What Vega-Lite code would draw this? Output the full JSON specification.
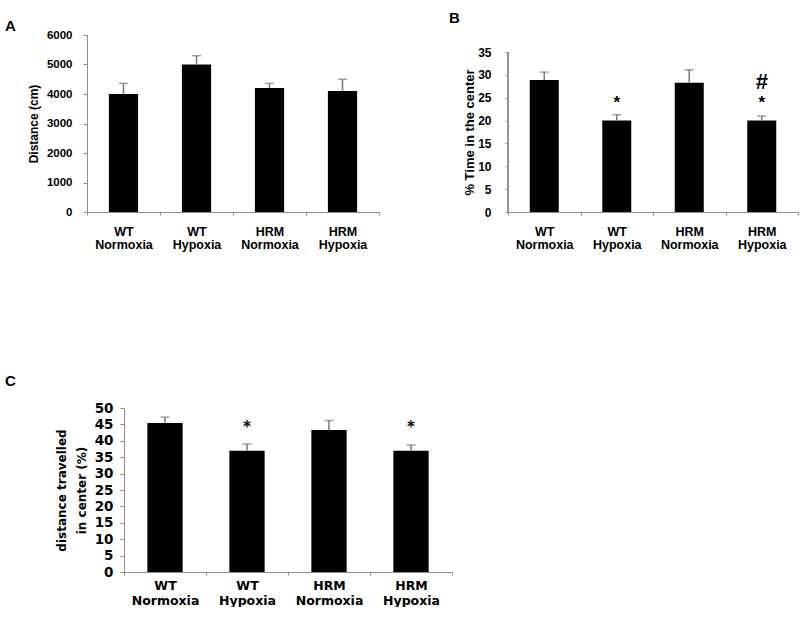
{
  "$schema": "https://vega.github.io/schema/vega-lite/v6.json",
  "padding": {"left": 5, "top": 11, "right": 0, "bottom": 0},
  "background": "white",
  "config": {
    "view": {"stroke": null},
    "axis": {
      "grid": false,
      "domainColor": "#8c8c8c",
      "tickColor": "#8c8c8c",
      "labelColor": "#000000",
      "titleColor": "#000000",
      "labelFont": "Liberation Sans",
      "titleFont": "Liberation Sans",
      "labelFontWeight": "bold",
      "titleFontWeight": "bold"
    },
    "title": {"anchor": "start", "frame": "group", "font": "Liberation Sans", "fontSize": 15, "fontWeight": "bold", "color": "#000000"}
  },
  "columns": 1,
  "align": "none",
  "spacing": 123,
  "concat": [
    {
      "hconcat": [
        {
          "title": {"text": "A", "dx": -119, "dy": 4, "offset": -1},
          "width": 255,
          "height": 177,
          "data": {"values": [
            {"group": "WT Normoxia", "mean": 4000, "upper": 4360},
            {"group": "WT Hypoxia", "mean": 5000, "upper": 5300},
            {"group": "HRM Normoxia", "mean": 4200, "upper": 4360},
            {"group": "HRM Hypoxia", "mean": 4100, "upper": 4500}
          ]},
          "encoding": {
            "x": {"field": "group", "type": "nominal", "sort": null,
              "scale": {"range": [-37, 255], "paddingInner": 0, "paddingOuter": 0},
              "axis": {"title": null, "labelAngle": 0, "labelExpr": "datum.value ? split(datum.value, ' ') : ''", "labelFontSize": 12.5, "labelLineHeight": 13, "tickBand": "extent", "tickSize": 3, "labelPadding": 10}}
          },
          "layer": [
            {"mark": {"type": "bar", "color": "#000000", "width": {"band": 0.4}},
             "encoding": {"y": {"field": "mean", "type": "quantitative",
               "scale": {"domain": [0, 6000]},
               "axis": {"title": "Distance (cm)", "offset": 37, "format": "d", "titleFontSize": 12, "labelFontSize": 11.5, "values": [0,1000,2000,3000,4000,5000,6000], "tickSize": 4, "labelPadding": 11, "titlePadding": 6}}}},
            {"mark": {"type": "rule", "color": "#777777", "strokeWidth": 1.5},
             "encoding": {"y": {"field": "mean", "type": "quantitative",
               "axis": {"title": "Distance (cm)", "offset": 37, "format": "d", "titleFontSize": 12, "labelFontSize": 11.5, "values": [0,1000,2000,3000,4000,5000,6000], "tickSize": 4, "labelPadding": 11, "titlePadding": 6}}, "y2": {"field": "upper"}}},
            {"mark": {"type": "tick", "color": "#777777", "size": 9, "thickness": 1.5},
             "encoding": {"y": {"field": "upper", "type": "quantitative",
               "axis": {"title": "Distance (cm)", "offset": 37, "format": "d", "titleFontSize": 12, "labelFontSize": 11.5, "values": [0,1000,2000,3000,4000,5000,6000], "tickSize": 4, "labelPadding": 11, "titlePadding": 6}}}}
          ]
        },
        {
          "title": {"text": "B", "dx": -59, "offset": 9},
          "width": 290,
          "height": 177,
          "data": {"values": [
            {"group": "WT Normoxia", "mean": 28.9, "upper": 30.6},
            {"group": "WT Hypoxia", "mean": 20.0, "upper": 21.3},
            {"group": "HRM Normoxia", "mean": 28.3, "upper": 31.1},
            {"group": "HRM Hypoxia", "mean": 20.0, "upper": 21.0}
          ]},
          "encoding": {
            "x": {"field": "group", "type": "nominal", "sort": null,
              "scale": {"paddingInner": 0, "paddingOuter": 0},
              "axis": {"title": null, "labelAngle": 0, "labelExpr": "datum.value ? split(datum.value, ' ') : ''", "labelFontSize": 12.5, "labelLineHeight": 13, "tickBand": "extent", "tickSize": 3, "labelPadding": 10}}
          },
          "layer": [
            {"mark": {"type": "bar", "color": "#000000", "width": {"band": 0.4}},
             "encoding": {"y": {"field": "mean", "type": "quantitative",
               "scale": {"domain": [0, 38.72], "nice": false},
               "axis": {"title": "% Time in the center", "domain": false, "titleFontSize": 13, "labelFontSize": 12, "values": [0,5,10,15,20,25,30,35], "tickSize": 3, "labelPadding": 14, "titlePadding": 1, "titleY": 97}}}},
            {"mark": {"type": "rule", "color": "#8c8c8c", "strokeWidth": 1},
             "encoding": {"x": {"datum": "WT Normoxia", "type": "nominal", "bandPosition": 0}, "y": {"datum": 0, "type": "quantitative",
               "axis": {"title": "% Time in the center", "domain": false, "titleFontSize": 13, "labelFontSize": 12, "values": [0,5,10,15,20,25,30,35], "tickSize": 3, "labelPadding": 14, "titlePadding": 1, "titleY": 97}}, "y2": {"datum": 35}}},
            {"mark": {"type": "rule", "color": "#777777", "strokeWidth": 1.5},
             "encoding": {"y": {"field": "mean", "type": "quantitative",
               "axis": {"title": "% Time in the center", "domain": false, "titleFontSize": 13, "labelFontSize": 12, "values": [0,5,10,15,20,25,30,35], "tickSize": 3, "labelPadding": 14, "titlePadding": 1, "titleY": 97}}, "y2": {"field": "upper"}}},
            {"mark": {"type": "tick", "color": "#777777", "size": 9, "thickness": 1.5},
             "encoding": {"y": {"field": "upper", "type": "quantitative",
               "axis": {"title": "% Time in the center", "domain": false, "titleFontSize": 13, "labelFontSize": 12, "values": [0,5,10,15,20,25,30,35], "tickSize": 3, "labelPadding": 14, "titlePadding": 1, "titleY": 97}}}},
            {"data": {"values": [
              {"group": "WT Hypoxia", "sym": "*", "pos": 23.8},
              {"group": "HRM Hypoxia", "sym": "*", "pos": 23.8}
            ]},
             "mark": {"type": "text", "font": "Liberation Sans", "fontWeight": "bold", "fontSize": 17, "baseline": "middle", "color": "#000000"},
             "encoding": {"y": {"field": "pos", "type": "quantitative",
               "axis": {"title": "% Time in the center", "domain": false, "titleFontSize": 13, "labelFontSize": 12, "values": [0,5,10,15,20,25,30,35], "tickSize": 3, "labelPadding": 14, "titlePadding": 1, "titleY": 97}}, "text": {"field": "sym"}}},
            {"data": {"values": [
              {"group": "HRM Hypoxia", "sym": "#", "pos": 28.4}
            ]},
             "mark": {"type": "text", "font": "Liberation Sans", "fontWeight": "bold", "fontSize": 22, "baseline": "middle", "color": "#000000"},
             "encoding": {"y": {"field": "pos", "type": "quantitative",
               "axis": {"title": "% Time in the center", "domain": false, "titleFontSize": 13, "labelFontSize": 12, "values": [0,5,10,15,20,25,30,35], "tickSize": 3, "labelPadding": 14, "titlePadding": 1, "titleY": 97}}, "text": {"field": "sym"}}}
          ]
        }
      ],
      "spacing": 33
    },
    {
      "hconcat": [
        {
          "title": {"text": "C", "dx": -119, "offset": 12},
          "width": 328,
          "height": 164,
          "data": {"values": [
            {"group": "WT Normoxia", "mean": 45.4, "upper": 47.2},
            {"group": "WT Hypoxia", "mean": 37.0, "upper": 39.0},
            {"group": "HRM Normoxia", "mean": 43.3, "upper": 46.2},
            {"group": "HRM Hypoxia", "mean": 37.0, "upper": 38.7}
          ]},
          "encoding": {
            "x": {"field": "group", "type": "nominal", "sort": null,
              "scale": {"paddingInner": 0, "paddingOuter": 0},
              "axis": {"title": null, "labelAngle": 0, "labelExpr": "datum.value ? split(datum.value, ' ') : ''", "labelFont": "DejaVu Sans", "labelFontSize": 12.5, "labelLineHeight": 15, "tickBand": "extent", "tickSize": 3, "labelPadding": 4}}
          },
          "layer": [
            {"mark": {"type": "bar", "color": "#000000", "width": {"band": 0.43}},
             "encoding": {"y": {"field": "mean", "type": "quantitative",
               "scale": {"domain": [0, 50]},
               "axis": {"title": ["distance travelled", "in center (%)"], "titleFont": "DejaVu Sans", "titleFontSize": 12, "titleLineHeight": 20, "labelFont": "DejaVu Sans", "labelFontSize": 13.5, "values": [0,5,10,15,20,25,30,35,40,45,50], "tickSize": 4, "labelPadding": 7, "titlePadding": 6}}}},
            {"mark": {"type": "rule", "color": "#777777", "strokeWidth": 1.5},
             "encoding": {"y": {"field": "mean", "type": "quantitative",
               "axis": {"title": ["distance travelled", "in center (%)"], "titleFont": "DejaVu Sans", "titleFontSize": 12, "titleLineHeight": 20, "labelFont": "DejaVu Sans", "labelFontSize": 13.5, "values": [0,5,10,15,20,25,30,35,40,45,50], "tickSize": 4, "labelPadding": 7, "titlePadding": 6}}, "y2": {"field": "upper"}}},
            {"mark": {"type": "tick", "color": "#777777", "size": 9, "thickness": 1.5},
             "encoding": {"y": {"field": "upper", "type": "quantitative",
               "axis": {"title": ["distance travelled", "in center (%)"], "titleFont": "DejaVu Sans", "titleFontSize": 12, "titleLineHeight": 20, "labelFont": "DejaVu Sans", "labelFontSize": 13.5, "values": [0,5,10,15,20,25,30,35,40,45,50], "tickSize": 4, "labelPadding": 7, "titlePadding": 6}}}},
            {"data": {"values": [
              {"group": "WT Hypoxia", "sym": "*", "pos": 44.2},
              {"group": "HRM Hypoxia", "sym": "*", "pos": 44.2}
            ]},
             "mark": {"type": "text", "font": "DejaVu Sans", "fontWeight": "bold", "fontSize": 15, "baseline": "middle", "color": "#000000"},
             "encoding": {"y": {"field": "pos", "type": "quantitative",
               "axis": {"title": ["distance travelled", "in center (%)"], "titleFont": "DejaVu Sans", "titleFontSize": 12, "titleLineHeight": 20, "labelFont": "DejaVu Sans", "labelFontSize": 13.5, "values": [0,5,10,15,20,25,30,35,40,45,50], "tickSize": 4, "labelPadding": 7, "titlePadding": 6}}, "text": {"field": "sym"}}}
          ]
        }
      ]
    }
  ]
}
